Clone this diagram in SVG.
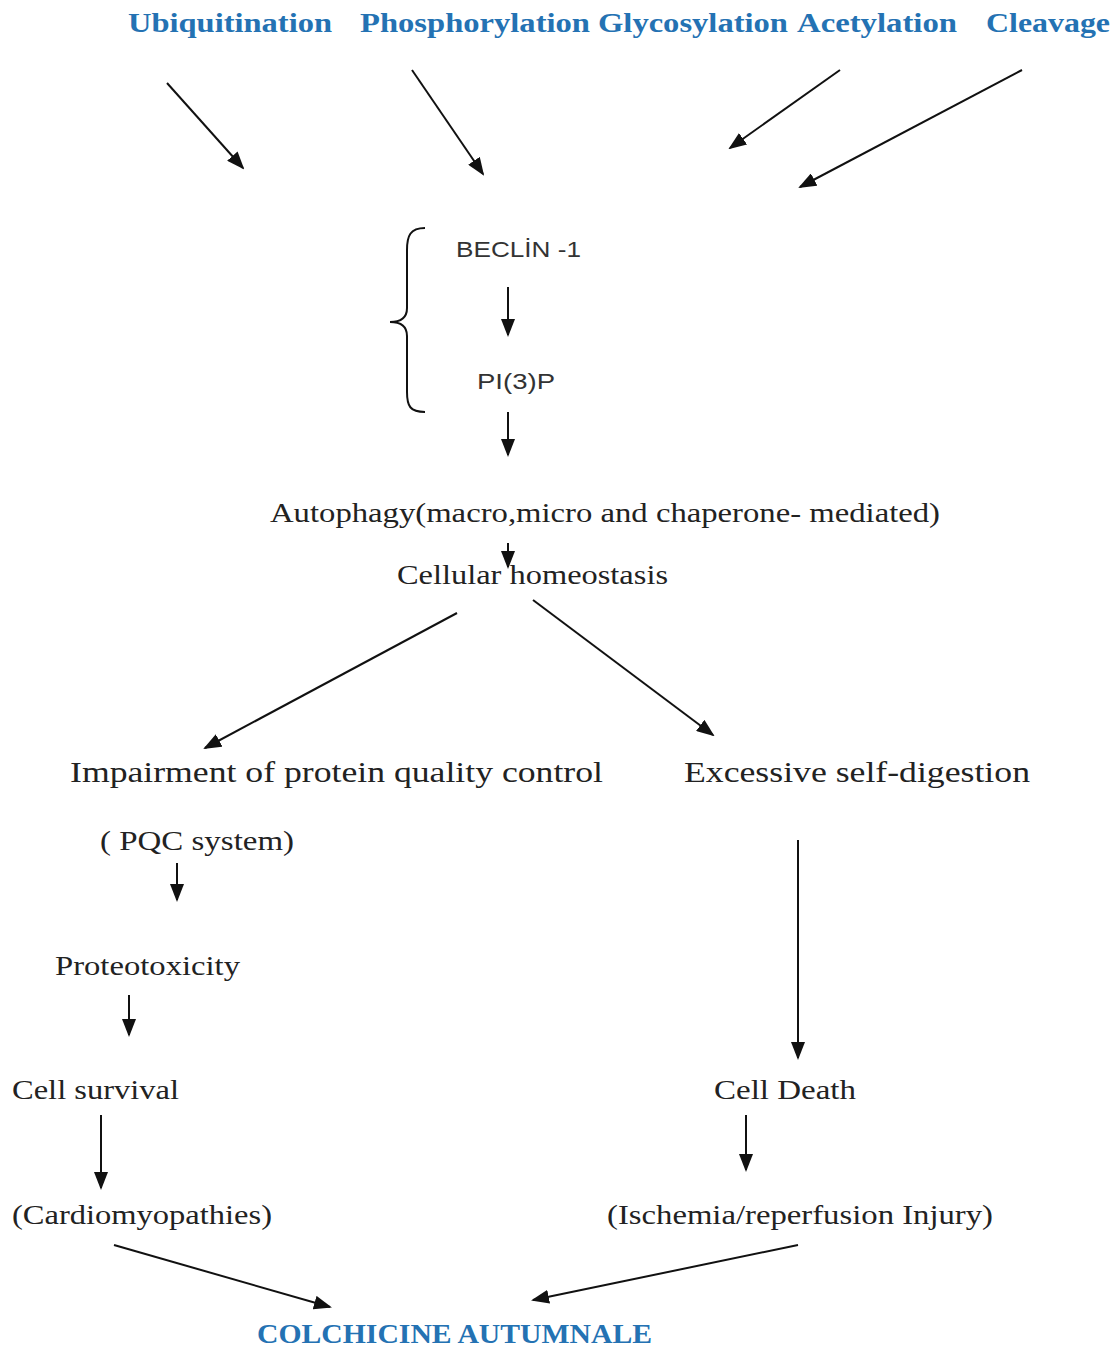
<svg xmlns="http://www.w3.org/2000/svg" width="1118" height="1349" viewBox="0 0 1118 1349">
<style>
.blue{font-family:"Liberation Serif","Times New Roman",serif;font-weight:bold;fill:#2472B3;font-size:27px}
.serif{font-family:"Liberation Serif","Times New Roman",serif;fill:#222;font-size:27px}
.big{font-size:30px}
.sans{font-family:"Liberation Sans",Arial,sans-serif;fill:#333;font-size:22px}
.c{stroke:#111;stroke-width:2;fill:none}
</style>
<defs>
<marker id="ah" markerUnits="userSpaceOnUse" markerWidth="18" markerHeight="14" refX="16" refY="7" orient="auto">
<path d="M0,0 L18,7 L0,14 Z" fill="#111"/>
</marker>
</defs>
<rect width="1118" height="1349" fill="#fff"/>
<g id="ubiquitination"><text class="blue" x="128" y="32" textLength="204" lengthAdjust="spacingAndGlyphs">Ubiquitination</text></g>
<g id="phosphorylation"><text class="blue" x="360" y="32" textLength="230" lengthAdjust="spacingAndGlyphs">Phosphorylation</text></g>
<g id="glycosylation"><text class="blue" x="598" y="32" textLength="190" lengthAdjust="spacingAndGlyphs">Glycosylation</text></g>
<g id="acetylation"><text class="blue" x="797" y="32" textLength="160" lengthAdjust="spacingAndGlyphs">Acetylation</text></g>
<g id="cleavage"><text class="blue" x="986" y="32" textLength="124" lengthAdjust="spacingAndGlyphs">Cleavage</text></g>
<g id="beclin"><text class="sans" x="456" y="257" textLength="125" lengthAdjust="spacingAndGlyphs">BECLİN -1</text></g>
<g id="pi3p"><text class="sans" x="477" y="389" textLength="78" lengthAdjust="spacingAndGlyphs">PI(3)P</text></g>
<g id="brace"><path class="c" d="M425,228 C410,228 407,236 407,250 L407,308 C407,318 400,322 390,322 C400,322 407,326 407,336 L407,392 C407,406 410,412 425,412" stroke-width="1.6"/></g>
<g id="autophagy"><text class="serif" x="270" y="522" textLength="670" lengthAdjust="spacingAndGlyphs">Autophagy(macro,micro and chaperone- mediated)</text></g>
<g id="homeostasis"><text class="serif" x="397" y="584" textLength="271" lengthAdjust="spacingAndGlyphs">Cellular homeostasis</text></g>
<g id="impairment"><text class="serif big" x="70" y="782" textLength="533" lengthAdjust="spacingAndGlyphs">Impairment of protein quality control</text></g>
<g id="excessive"><text class="serif big" x="684" y="782" textLength="346" lengthAdjust="spacingAndGlyphs">Excessive self-digestion</text></g>
<g id="pqc"><text class="serif" x="100" y="850" textLength="194" lengthAdjust="spacingAndGlyphs">( PQC system)</text></g>
<g id="proteotoxicity"><text class="serif" x="55" y="975" textLength="185" lengthAdjust="spacingAndGlyphs">Proteotoxicity</text></g>
<g id="survival"><text class="serif" x="12" y="1099" textLength="167" lengthAdjust="spacingAndGlyphs">Cell survival</text></g>
<g id="cardio"><text class="serif" x="12" y="1224" textLength="260" lengthAdjust="spacingAndGlyphs">(Cardiomyopathies)</text></g>
<g id="death"><text class="serif" x="714" y="1099" textLength="142" lengthAdjust="spacingAndGlyphs">Cell Death</text></g>
<g id="ischemia"><text class="serif" x="607" y="1224" textLength="386" lengthAdjust="spacingAndGlyphs">(Ischemia/reperfusion Injury)</text></g>
<g id="colchicine"><text class="blue" x="257" y="1343" textLength="395" lengthAdjust="spacingAndGlyphs">COLCHICINE AUTUMNALE</text></g>
<g id="connectors" class="c">
<line x1="167" y1="83" x2="243" y2="168" marker-end="url(#ah)"/>
<line x1="412" y1="70" x2="483" y2="174" marker-end="url(#ah)"/>
<line x1="840" y1="70" x2="730" y2="148" marker-end="url(#ah)"/>
<line x1="1022" y1="70" x2="800" y2="187" marker-end="url(#ah)"/>
<line x1="508" y1="287" x2="508" y2="335" marker-end="url(#ah)"/>
<line x1="508" y1="412" x2="508" y2="455" marker-end="url(#ah)"/>
<line x1="508" y1="543" x2="508" y2="567" marker-end="url(#ah)"/>
<line x1="457" y1="613" x2="205" y2="748" marker-end="url(#ah)"/>
<line x1="533" y1="600" x2="713" y2="735" marker-end="url(#ah)"/>
<line x1="177" y1="863" x2="177" y2="900" marker-end="url(#ah)"/>
<line x1="129" y1="995" x2="129" y2="1035" marker-end="url(#ah)"/>
<line x1="101" y1="1115" x2="101" y2="1188" marker-end="url(#ah)"/>
<line x1="798" y1="840" x2="798" y2="1058" marker-end="url(#ah)"/>
<line x1="746" y1="1115" x2="746" y2="1170" marker-end="url(#ah)"/>
<line x1="114" y1="1245" x2="330" y2="1307" marker-end="url(#ah)"/>
<line x1="798" y1="1245" x2="533" y2="1300" marker-end="url(#ah)"/>
</g>
</svg>
